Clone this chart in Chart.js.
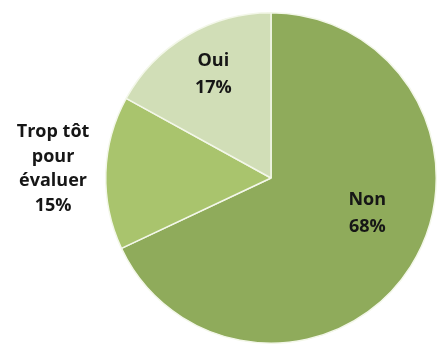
<!DOCTYPE html>
<html>
<head>
<meta charset="utf-8">
<script src="https://cdn.jsdelivr.net/npm/chart.js@4"></script>
<style>
  html, body { margin: 0; padding: 0; background: #fff; }
  #wrap { width: 437px; height: 351px; position: relative; }
</style>
</head>
<body>
<div id="wrap"><canvas id="pie"></canvas></div>
<script>
// data
const labels = ['Non', 'Trop tôt pour évaluer', 'Oui'];
const labelLines = [['Non'], ['Trop tôt', 'pour', 'évaluer'], ['Oui']];
const values = [68, 15, 17];
const colors = ['#8fab5b', '#a9c46d', '#d1deb7'];

// label anchor: fraction of radius + angle (deg, clockwise from top)
const labelPos = [{ r: 0.62, a: 110 }, { r: 1.32, a: 272.4 }, { r: 0.72, a: 331 }];

const pieLabels = {
    id: 'pieLabels',
    afterDatasetsDraw(chart) {
        const ctx = chart.ctx;
        const arcs = chart.getDatasetMeta(0).data;
        ctx.save();
        ctx.font = 'bold 18px "Open Sans", "DejaVu Sans", sans-serif';
        ctx.fillStyle = '#161616';
        ctx.textAlign = 'center';
        ctx.textBaseline = 'middle';
        arcs.forEach((arc, i) => {
            const p = labelPos[i];
            const ang = (p.a - 90) * Math.PI / 180;
            const x = arc.x + Math.cos(ang) * arc.outerRadius * p.r;
            const y = arc.y + Math.sin(ang) * arc.outerRadius * p.r;
            const lines = labelLines[i].concat([values[i] + '%']);
            const lh = i === 1 ? 24.5 : 27;
            const y0 = y - (lines.length - 1) * lh / 2;
            lines.forEach((t, k) => ctx.fillText(t, x, y0 + k * lh));
        });
        ctx.restore();
    }
};

new Chart(document.getElementById('pie'), {
    type: 'pie',
    data: {
        labels,
        datasets: [{ data: values, backgroundColor: colors,
            borderColor: '#f3f7e9', borderWidth: 1.5 }]
    },
    options: {
        responsive: true, maintainAspectRatio: false,
        animation: false, events: [],
        layout: { padding: { left: 105, right: 0, top: 10, bottom: 5 } },
        plugins: { legend: { display: false }, tooltip: { enabled: false } }
    },
    plugins: [pieLabels]
});
</script>
</body>
</html>
